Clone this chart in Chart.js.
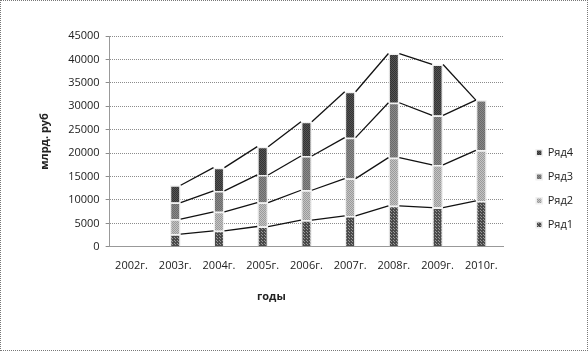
<!DOCTYPE html>
<html>
<head>
<meta charset="utf-8">
<script src="https://cdn.jsdelivr.net/npm/chart.js@4"></script>
<style>
  body { margin: 0; background: #fff; }
  #wrap { width: 586px; height: 349px; border: 1px dotted #777; }
</style>
</head>
<body>
<div id="wrap"><canvas id="grafico" width="586" height="349"></canvas></div>
<script>
const anios = ['2002г.', '2003г.', '2004г.', '2005г.', '2006г.', '2007г.', '2008г.', '2009г.', '2010г.'];
const ryad1 = [null, 2700, 3400, 4330, 5680, 6600, 8740, 8380, 9800];
const ryad2 = [null, 3200, 4060, 5120, 6390, 7960, 10290, 9090, 10800];
const ryad3 = [null, 3550, 4470, 5890, 7320, 8740, 11720, 10580, 10720];
const ryad4 = [null, 3700, 4970, 6040, 7310, 9800, 10510, 10870, null];

const fuente = "'Open Sans', 'Liberation Sans', sans-serif";

// textura punteada como en Excel
function patron(fondo, punto, paso) {
    const c = document.createElement('canvas');
    c.width = paso; c.height = paso;
    const g = c.getContext('2d');
    g.fillStyle = fondo;
    g.fillRect(0, 0, paso, paso);
    g.fillStyle = punto;
    g.fillRect(0, 0, 1, 1);
    if (paso === 2) g.fillRect(1, 1, 1, 1);
    else g.fillRect(2, 2, 1, 1);
    return g.createPattern(c, 'repeat');
}
const ctx = document.getElementById('grafico').getContext('2d');

// lineas de serie entre columnas
const lineasSerie = {
    id: 'lineasSerie',
    afterDatasetsDraw(chart) {
        const y = chart.scales.y;
        const base = chart.getDatasetMeta(0).data;
        const c = chart.ctx;
        c.save();
        c.strokeStyle = '#111';
        c.lineWidth = 1.3;
        chart.data.datasets.forEach((ds, k) => {
            for (let i = 1; i < anios.length - 1; i++) {
                let s1 = 0, s2 = 0, ok = false;
                for (let m = 0; m <= k; m++) {
                    const a = chart.data.datasets[m].data[i];
                    const b = chart.data.datasets[m].data[i + 1];
                    if (a != null) { s1 += a; ok = true; }
                    if (b != null) s2 += b;
                }
                if (!ok) continue;
                const e1 = base[i], e2 = base[i + 1];
                c.beginPath();
                c.moveTo(e1.x + e1.width / 2, y.getPixelForValue(s1));
                c.lineTo(e2.x - e2.width / 2, y.getPixelForValue(s2));
                c.stroke();
            }
        });
        c.restore();
    }
};

const tituloX = {
    id: 'tituloX',
    afterDraw(chart) {
        const a = chart.chartArea;
        const c = chart.ctx;
        c.save();
        c.font = "bold 11px " + fuente;
        c.fillStyle = '#222';
        c.textAlign = 'center';
        c.fillText('годы', (a.left + a.right) / 2 - 35, a.bottom + 53);
        c.restore();
    }
};

const borde = '#f0f0f0';
new Chart(ctx, {
    type: 'bar',
    data: {
        labels: anios,
        datasets: [
            { label: 'Ряд1', data: ryad1, backgroundColor: patron('#4a4a4a', '#9a9a9a', 3) },
            { label: 'Ряд2', data: ryad2, backgroundColor: patron('#c4c4c4', '#9a9a9a', 2) },
            { label: 'Ряд3', data: ryad3, backgroundColor: patron('#8a8a8a', '#6a6a6a', 2) },
            { label: 'Ряд4', data: ryad4, backgroundColor: patron('#555555', '#333333', 2) }
        ].map(d => Object.assign(d, {
            borderColor: borde,
            borderWidth: 1.5,
            barPercentage: 0.25,
            categoryPercentage: 1
        }))
    },
    options: {
        responsive: false,
        animation: false,
        layout: { padding: { top: 35, left: 34, right: 4, bottom: 74 } },
        scales: {
            x: {
                stacked: true,
                grid: { display: false },
                border: { color: '#999', dash: [1, 1] },
                ticks: { color: '#222', font: { family: fuente, size: 11 }, padding: 4, maxRotation: 0 }
            },
            y: {
                stacked: true,
                min: 0,
                max: 45000,
                ticks: { stepSize: 5000, color: '#222', font: { family: fuente, size: 11 }, padding: 6,
                         callback: v => String(v) },
                grid: { color: '#8c8c8c', tickLength: 4 },
                border: { color: '#999', dash: [1, 1] },
                title: { display: true, text: 'млрд. руб', color: '#222', font: { family: fuente, size: 11, weight: 'bold' }, padding: { top: 3, bottom: 11 } }
            },
            // eje vacio: solo deja hueco entre el grafico y la leyenda
            hueco: {
                position: 'right',
                grid: { display: false, drawTicks: false, tickLength: 0 },
                border: { display: false },
                ticks: { callback: () => '', padding: 10 }
            }
        },
        plugins: {
            legend: {
                position: 'right',
                reverse: true,
                title: { display: true, text: ' ', padding: { top: 51, bottom: 0 } },
                labels: { boxWidth: 6, boxHeight: 6, padding: 13, color: '#222', font: { family: fuente, size: 11 } }
            },
            tooltip: { enabled: false }
        }
    },
    plugins: [lineasSerie, tituloX]
});
</script>
</body>
</html>
